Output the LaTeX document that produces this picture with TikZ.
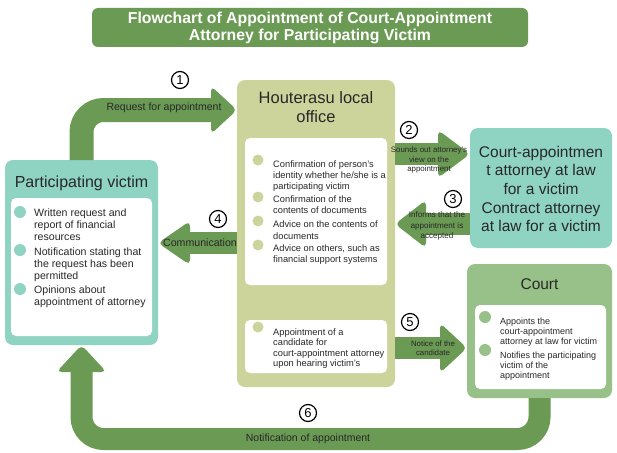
\documentclass[tikz,border=0pt]{standalone}
\usepackage{fontspec}
\setmainfont{Liberation Sans}
\definecolor{leaf}{RGB}{106,154,84}
\definecolor{aqua}{RGB}{143,211,194}
\definecolor{moss}{RGB}{205,212,155}
\definecolor{sage}{RGB}{152,192,137}
\definecolor{ink}{RGB}{40,40,40}
\newcommand{\fs}[2]{\fontsize{#1}{#2}\selectfont}

\begin{document}
\begin{tikzpicture}[x=1pt, y=-1pt,
  box/.style={rounded corners=8pt, inner sep=0pt, outer sep=0pt},
  sheet/.style={fill=white, rounded corners=5pt, inner sep=0pt, outer sep=0pt},
  fat/.style={draw=leaf, line width=22pt},
  head/.style={fill=leaf, rounded corners=5pt},
  num/.style={circle, draw=black, line width=1.2pt, inner sep=0pt, minimum size=17pt, font=\fs{13}{13}},
  dot/.style={circle, inner sep=0pt, minimum size=12pt},
  itm/.style={anchor=north west, inner sep=0pt, align=left, text=ink},
  lbl/.style={align=center, inner sep=0pt, text=ink}]
\useasboundingbox (0,0) rectangle (617,452);

% title
\node (title) [box, fill=leaf, rounded corners=6pt, minimum width=436pt, minimum height=39pt,
  align=center, text=white, font=\fs{15.8}{17}\bfseries] at (310,27.5)
  {Flowchart of Appointment of Court-Appointment\\Attorney for Participating Victim};

% boxes
\node (victim)   [box, fill=aqua, minimum width=153pt, minimum height=185pt] at (81.5,252.5) {};
\node (office)   [box, fill=moss, minimum width=158pt, minimum height=307pt] at (316,233.5) {};
\node (attorney) [box, fill=aqua, minimum width=142pt, minimum height=120pt] at (541,188) {};
\node (court)    [box, fill=sage, minimum width=145pt, minimum height=134pt] at (539.5,331) {};

\node (vsheet)  [sheet, minimum width=141pt, minimum height=138pt] at (81.5,267) {};
\node (osheet1) [sheet, minimum width=142pt, minimum height=147pt] at (316,211.5) {};
\node (osheet2) [sheet, minimum width=142pt, minimum height=53pt] at (316,346.5) {};
\node (csheet)  [sheet, minimum width=131pt, minimum height=84pt] at (540.5,347) {};

% box titles
\node (vtitle) [lbl, font=\fs{16}{18}] at (81.5,183) {Participating victim};
\node (otitle) [lbl, font=\fs{16.5}{19}] at (316,107) {Houterasu local\\office};
\node (atext)  [lbl, font=\fs{15.5}{18.7}] at (541,189)
  {Court-appointmen\\t attorney at law\\for a victim\\Contract attorney\\at law for a victim};
\node (ctitle) [lbl, font=\fs{15.5}{18}] at (539.5,284) {Court};

% participating victim items
\node (vd1) [dot, fill=aqua] at (20,212) {};
\node (vd2) [dot, fill=aqua] at (20,250) {};
\node (vd3) [dot, fill=aqua] at (20,289) {};
\node (vi1) [itm, font=\fs{10.6}{12.3}] at (34,208.5) {Written request and\\report of financial\\resources};
\node (vi2) [itm, font=\fs{10.6}{12.3}] at (34,247.5) {Notification stating that\\the request has been\\permitted};
\node (vi3) [itm, font=\fs{10.6}{12.3}] at (34,285.5) {Opinions about\\appointment of attorney};

% office items
\node (od1) [dot, fill=moss, minimum size=11pt] at (258,160) {};
\node (od2) [dot, fill=moss, minimum size=11pt] at (258,197) {};
\node (od3) [dot, fill=moss, minimum size=11pt] at (258,221) {};
\node (od4) [dot, fill=moss, minimum size=11pt] at (258,245) {};
\node (od5) [dot, fill=moss, minimum size=11pt] at (258,327) {};
\node (oi1) [itm, font=\fs{9.3}{11.2}] at (273,160.5) {Confirmation of person’s\\identity whether he/she is a\\participating victim};
\node (oi2) [itm, font=\fs{9.3}{11.2}] at (273,195.5) {Confirmation of the\\contents of documents};
\node (oi3) [itm, font=\fs{9.3}{11.2}] at (273,221) {Advice on the contents of\\documents};
\node (oi4) [itm, font=\fs{9.3}{11.2}] at (273,244.5) {Advice on others, such as\\financial support systems};
\node (oi5) [itm, font=\fs{9.3}{10.5}] at (273,328.5) {Appointment of a\\candidate for\\court-appointment attorney\\upon hearing victim’s};

% court items
\node (cd1) [dot, fill=sage] at (485,317) {};
\node (cd2) [dot, fill=sage] at (485,350) {};
\node (ci1) [itm, font=\fs{9}{10.3}] at (500,317.5) {Appoints the\\court-appointment\\attorney at law for victim};
\node (ci2) [itm, font=\fs{9}{10.3}] at (500,351.5) {Notifies the participating\\victim of the\\appointment};

% arrows
\coordinate (h1) at (211,110);
\coordinate (h2) at (438,154);
\coordinate (h3) at (426,224);
\coordinate (h4) at (190,243);
\coordinate (h5) at (440,348);
\coordinate (h6) at (81.5,372);
\coordinate (bend) at (300,439);

\draw[fat, line width=24pt, rounded corners=22pt] (victim.north) |- (h1);
\fill[head] ([yshift=24pt]h1) -- (office.west |- h1) -- ([yshift=-24pt]h1) -- cycle;

\draw[fat] (office.east |- h2) -- (h2);
\fill[head] ([yshift=24pt]h2) -- (attorney.west |- h2) -- ([yshift=-24pt]h2) -- cycle;

\draw[fat] (attorney.west |- h3) -- (h3);
\fill[head] ([yshift=24pt]h3) -- (office.east |- h3) -- ([yshift=-24pt]h3) -- cycle;

\draw[fat] (office.west |- h4) -- (h4);
\fill[head] ([yshift=22pt]h4) -- (victim.east |- h4) -- ([yshift=-22pt]h4) -- cycle;

\draw[fat] (office.east |- h5) -- (h5);
\fill[head] ([yshift=25pt]h5) -- (court.west |- h5) -- ([yshift=-25pt]h5) -- cycle;

\draw[fat, rounded corners=22pt] (court.south) |- (bend) -| (h6);
\fill[head] ([xshift=-25pt]h6) -- (victim.south) -- ([xshift=25pt]h6) -- cycle;

% arrow labels
\node (l1) [lbl, font=\fs{10.5}{11}] at (164,108) {Request for appointment};
\node (l2) [lbl, font=\fs{7.9}{9.3}] at (429,160) {Sounds out attorney’s\\view on the\\appointment};
\node (l3) [lbl, font=\fs{8.1}{10.5}] at (437,226) {Informs that the\\appointment is\\accepted};
\node (l4) [lbl, font=\fs{10.6}{11}] at (200,243) {Communication};
\node (l5) [lbl, font=\fs{7.8}{9.5}] at (433,348) {Notice of the\\candidate};
\node (l6) [lbl, font=\fs{10.5}{11}] at (308,439) {Notification of appointment};

% step numbers
\node (n1) [num] at (180,80) {1};
\node (n2) [num] at (409,130) {2};
\node (n3) [num] at (453,199) {3};
\node (n4) [num] at (218,219) {4};
\node (n5) [num] at (410,322) {5};
\node (n6) [num] at (308,413) {6};
\end{tikzpicture}
\end{document}
